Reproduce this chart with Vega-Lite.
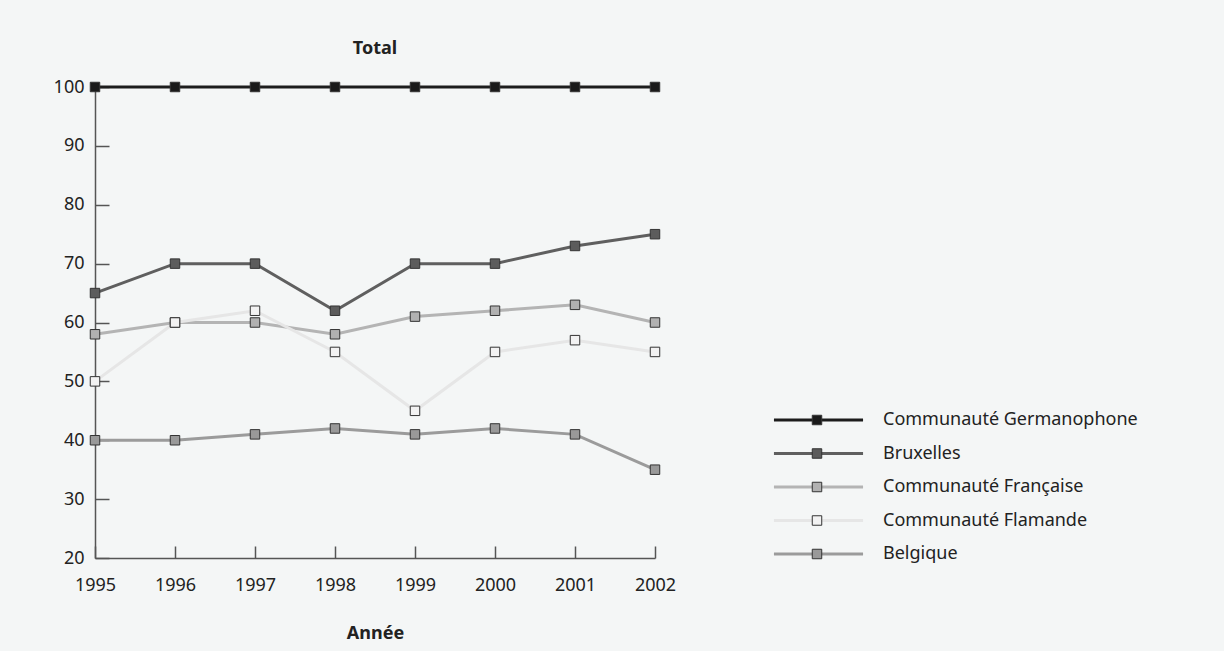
{
  "$schema": "https://vega.github.io/schema/vega-lite/v6.json",
  "width": 560,
  "height": 471,
  "autosize": {"type": "none"},
  "padding": {"left": 95, "top": 87, "right": 569, "bottom": 93},
  "background": "#f4f6f6",
  "title": {"text": "Total", "fontSize": 18, "fontWeight": "bold", "font": "Noto Sans", "color": "#222222", "offset": 20, "anchor": "middle"},
  "config": {
    "view": {"stroke": null},
    "font": "Noto Sans",
    "axis": {"labelFont": "Noto Sans", "titleFont": "Noto Sans", "labelFontSize": 18, "labelColor": "#222222", "titleColor": "#222222", "domainColor": "#555555", "tickColor": "#555555", "grid": false, "domainWidth": 1.5, "tickWidth": 1.5},
    "legend": {"labelFont": "Noto Sans", "labelFontSize": 18, "labelColor": "#222222", "labelLimit": 400}
  },
  "data": {"values": [
    {"annee": 1995, "serie": "Communauté Germanophone", "valeur": 100},
    {"annee": 1996, "serie": "Communauté Germanophone", "valeur": 100},
    {"annee": 1997, "serie": "Communauté Germanophone", "valeur": 100},
    {"annee": 1998, "serie": "Communauté Germanophone", "valeur": 100},
    {"annee": 1999, "serie": "Communauté Germanophone", "valeur": 100},
    {"annee": 2000, "serie": "Communauté Germanophone", "valeur": 100},
    {"annee": 2001, "serie": "Communauté Germanophone", "valeur": 100},
    {"annee": 2002, "serie": "Communauté Germanophone", "valeur": 100},
    {"annee": 1995, "serie": "Bruxelles", "valeur": 65},
    {"annee": 1996, "serie": "Bruxelles", "valeur": 70},
    {"annee": 1997, "serie": "Bruxelles", "valeur": 70},
    {"annee": 1998, "serie": "Bruxelles", "valeur": 62},
    {"annee": 1999, "serie": "Bruxelles", "valeur": 70},
    {"annee": 2000, "serie": "Bruxelles", "valeur": 70},
    {"annee": 2001, "serie": "Bruxelles", "valeur": 73},
    {"annee": 2002, "serie": "Bruxelles", "valeur": 75},
    {"annee": 1995, "serie": "Communauté Française", "valeur": 58},
    {"annee": 1996, "serie": "Communauté Française", "valeur": 60},
    {"annee": 1997, "serie": "Communauté Française", "valeur": 60},
    {"annee": 1998, "serie": "Communauté Française", "valeur": 58},
    {"annee": 1999, "serie": "Communauté Française", "valeur": 61},
    {"annee": 2000, "serie": "Communauté Française", "valeur": 62},
    {"annee": 2001, "serie": "Communauté Française", "valeur": 63},
    {"annee": 2002, "serie": "Communauté Française", "valeur": 60},
    {"annee": 1995, "serie": "Communauté Flamande", "valeur": 50},
    {"annee": 1996, "serie": "Communauté Flamande", "valeur": 60},
    {"annee": 1997, "serie": "Communauté Flamande", "valeur": 62},
    {"annee": 1998, "serie": "Communauté Flamande", "valeur": 55},
    {"annee": 1999, "serie": "Communauté Flamande", "valeur": 45},
    {"annee": 2000, "serie": "Communauté Flamande", "valeur": 55},
    {"annee": 2001, "serie": "Communauté Flamande", "valeur": 57},
    {"annee": 2002, "serie": "Communauté Flamande", "valeur": 55},
    {"annee": 1995, "serie": "Belgique", "valeur": 40},
    {"annee": 1996, "serie": "Belgique", "valeur": 40},
    {"annee": 1997, "serie": "Belgique", "valeur": 41},
    {"annee": 1998, "serie": "Belgique", "valeur": 42},
    {"annee": 1999, "serie": "Belgique", "valeur": 41},
    {"annee": 2000, "serie": "Belgique", "valeur": 42},
    {"annee": 2001, "serie": "Belgique", "valeur": 41},
    {"annee": 2002, "serie": "Belgique", "valeur": 35}
  ]},
  "encoding": {
    "x": {"field": "annee", "type": "quantitative", "scale": {"domain": [1995, 2002], "nice": false, "zero": false},
      "axis": {"title": "Année", "titleFontSize": 18, "titleFontWeight": "bold", "titlePadding": 30, "format": "d", "values": [1995, 1996, 1997, 1998, 1999, 2000, 2001, 2002], "tickSize": -12, "labelPadding": 30, "labelFlush": false}},
    "y": {"field": "valeur", "type": "quantitative", "scale": {"domain": [20, 100], "nice": false, "zero": false},
      "axis": {"title": null, "values": [20, 30, 40, 50, 60, 70, 80, 90, 100], "tickSize": -14, "labelPadding": 25, "labelFlush": false}}
  },
  "layer": [
    {
      "mark": {"type": "line", "strokeWidth": 3},
      "encoding": {
        "stroke": {"field": "serie", "type": "nominal",
          "scale": {"domain": ["Communauté Germanophone", "Bruxelles", "Communauté Française", "Communauté Flamande", "Belgique"], "range": ["#1c1c1c", "#5f5f5f", "#b4b4b4", "#e6e6e6", "#9b9b9b"]},
          "legend": {"title": null, "orient": "none", "legendX": 714.5, "legendY": 324, "symbolType": "M-8.1,0H8.1", "symbolSize": 121, "symbolStrokeWidth": 3, "symbolFillColor": "transparent", "rowPadding": 15.5, "labelOffset": 55.5}}
      }
    },
    {
      "mark": {"type": "point", "shape": "square", "filled": true, "size": 90, "stroke": "#333333", "strokeWidth": 1, "opacity": 1},
      "encoding": {
        "fill": {"field": "serie", "type": "nominal", "sort": null,
          "scale": {"range": ["#1a1a1a", "#5c5c5c", "#b1b1b1", "#f2f2f2", "#999999"]},
          "legend": {"title": null, "orient": "none", "legendX": 713, "legendY": 324, "symbolType": "square", "symbolSize": 90, "symbolStrokeColor": "#333333", "symbolStrokeWidth": 1, "symbolOpacity": 1, "rowPadding": 15.5, "labelExpr": "''"}}
      }
    }
  ]
}
